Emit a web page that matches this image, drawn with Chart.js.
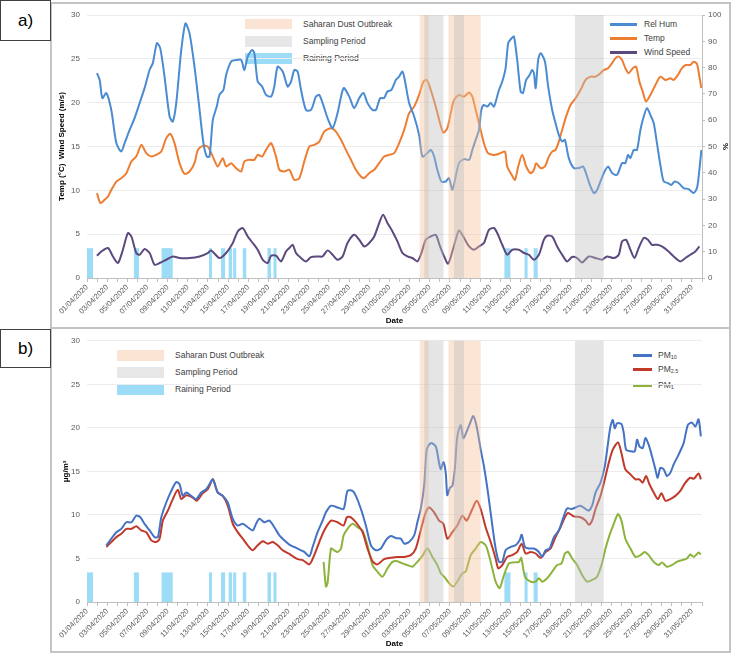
<!DOCTYPE html>
<html>
<head>
<meta charset="utf-8">
<script src="https://cdn.jsdelivr.net/npm/chart.js@4.4.0/dist/chart.umd.min.js"></script>
<style>
  body { margin: 0; background: #fff; font-family: "Liberation Sans", Arial, sans-serif; }
  #page { position: relative; width: 733px; height: 656px; overflow: hidden; background: #fff; }
  .panel { position: absolute; box-sizing: border-box; border: 2px solid #c4c4c4; background: #fff; }
  .tag { position: absolute; box-sizing: border-box; border: 1px solid #404040; background: #fff;
         font-size: 17px; color: #000; display: flex; align-items: center; justify-content: center; z-index: 3; }
  .sw { position: absolute; width: 47px; height: 11px; }
  .txt { position: absolute; font-size: 8.5px; line-height: 10px; color: #404040; white-space: nowrap; }
  .ln { position: absolute; height: 2.5px; }
  canvas { position: absolute; z-index: 2; }
  sub { font-size: 5.5px; vertical-align: -1px; line-height: 0; }
</style>
</head>
<body>
<div id="page">
  <div class="panel" style="left:50px;top:2px;width:681px;height:327px;"></div>
  <div class="panel" style="left:50px;top:327px;width:681px;height:326px;"></div>
  <div class="tag" style="left:0;top:0;width:51px;height:41px;">a)</div>
  <div class="tag" style="left:0;top:329px;width:51px;height:39px;">b)</div>

  <!-- legend a -->
  <div class="sw" style="left:245px;top:19px;height:10px;background:#fce4d4;"></div>
  <div class="sw" style="left:245px;top:36px;background:#e7e7e7;"></div>
  <div class="sw" style="left:245px;top:53px;background:#9ddcf6;"></div>
  <div class="txt" style="left:303px;top:19px;">Saharan Dust Outbreak</div>
  <div class="txt" style="left:303px;top:36px;">Sampling Period</div>
  <div class="txt" style="left:303px;top:53px;">Raining Period</div>
  <div class="ln" style="left:610px;top:23px;width:27px;background:#4a8bd1;"></div>
  <div class="ln" style="left:610px;top:37px;width:27px;background:#ed7d31;"></div>
  <div class="ln" style="left:610px;top:51px;width:27px;background:#5c4a7e;"></div>
  <div class="txt" style="left:644px;top:19px;">Rel Hum</div>
  <div class="txt" style="left:644px;top:33px;">Temp</div>
  <div class="txt" style="left:644px;top:47px;">Wind Speed</div>

  <!-- legend b -->
  <div class="sw" style="left:117px;top:350px;background:#fce4d4;"></div>
  <div class="sw" style="left:117px;top:367px;background:#e7e7e7;"></div>
  <div class="sw" style="left:117px;top:384px;background:#9ddcf6;"></div>
  <div class="txt" style="left:175px;top:350px;">Saharan Dust Outbreak</div>
  <div class="txt" style="left:175px;top:367px;">Sampling Period</div>
  <div class="txt" style="left:175px;top:384px;">Raining Period</div>
  <div class="ln" style="left:633px;top:354px;width:19px;background:#4472c4;"></div>
  <div class="ln" style="left:633px;top:368px;width:19px;background:#c0392b;"></div>
  <div class="ln" style="left:633px;top:384px;width:19px;background:#8db33c;"></div>
  <div class="txt" style="left:658px;top:350px;">PM<sub>10</sub></div>
  <div class="txt" style="left:658px;top:364px;">PM<sub>2.5</sub></div>
  <div class="txt" style="left:658px;top:380px;">PM<sub>1</sub></div>

  <canvas id="chartA" width="679" height="325" style="left:51px;top:3px;"></canvas>
  <canvas id="chartB" width="679" height="322" style="left:51px;top:329px;"></canvas>
</div>

<script>
// x values are days since 01/04/2020
const dustStart = [33.0, 35.85];
const dustEnd = [33.9, 39.05];
const samplingStart = [33.45, 36.4, 48.4];
const samplingEnd = [35.35, 37.4, 51.25];
const rainStart = [0, 4.65, 7.4, 12.1, 13.3, 14.05, 14.5, 15.45, 17.9, 18.5, 41.4, 43.4, 44.3];
const rainEnd = [0.6, 5.15, 8.5, 12.4, 13.7, 14.4, 14.8, 15.8, 18.25, 18.8, 42.0, 43.7, 44.7];
const rainHeight = 3.4;

const rhDays = [0.99,1.26,1.52,1.92,2.41,2.91,3.4,3.73,4.23,4.72,5.22,5.71,6.21,6.53,6.93,7.26,7.69,8.19,8.51,8.85,9.35,9.77,10.17,10.66,11.09,11.55,11.88,12.15,12.48,12.87,13.14,13.53,13.8,14.3,14.79,15.29,15.61,15.94,16.38,16.6,16.93,17.37,17.76,18.26,18.58,18.91,19.41,19.9,20.24,20.56,20.89,21.23,21.72,22.22,22.71,23.04,23.37,23.86,24.36,24.85,25.45,26.01,26.5,27,27.43,27.82,28.32,28.65,29.08,29.47,29.8,30.2,30.63,30.96,31.29,31.52,31.95,32.45,32.94,33.27,33.76,34.1,34.43,34.75,35.15,35.58,35.9,36.24,36.57,36.9,37.4,37.9,38.22,38.55,38.88,39.11,39.37,39.7,40.04,40.37,40.86,41.19,41.52,41.78,42.12,42.35,42.67,43.01,43.24,43.56,43.9,44.16,44.33,44.5,44.75,44.99,45.42,45.74,46.14,46.47,46.8,47.13,47.4,47.79,48.29,48.78,49.21,49.6,49.94,50.27,50.59,50.93,51.26,51.68,52.08,52.57,53.07,53.4,53.66,53.9,54.23,54.55,54.89,55.22,55.54,55.88,56.21,56.53,56.87,57.2,57.62,57.96,58.29,58.68,59.18,59.67,60.17,60.5,60.67,60.94];
const rhValues = [77.9,75.3,68.4,70.3,63.9,51.3,48.1,51.3,56.3,60.8,66.5,72.2,79.1,81.7,89.3,87.4,76.6,61.4,59.5,66.5,86.7,96.8,93,80.4,66.5,51.3,46.2,46.2,60.1,65.2,69.6,71.5,77.2,82.3,82.9,82.9,79.1,84.2,86.7,85.5,74.7,72.8,69.6,69,72.8,80.4,78.5,72.8,74.7,79.1,78.5,71.5,63.9,63.9,69,69.6,66.5,60.8,57,62.7,72.2,69,64.6,68.4,70.3,66.5,63.9,63.9,68.4,68.4,70.9,71.5,75.3,76.6,78.5,75.3,66.5,61.4,54.4,46.2,47.5,48.7,46.2,41.1,36.7,36.7,38,33.5,38.6,43.7,45.2,44.9,48.7,52.5,56.3,63.9,65.8,65.2,66.5,65.2,71.5,74.7,79.8,89.3,91.2,91.8,82.9,70.9,70.3,75.3,77.2,79.1,77.9,72.2,82.9,85.5,82.3,72.8,63.9,58.9,54.4,51.9,52.5,45.6,41.8,41.8,42.4,38.6,34.8,32.3,33.5,36.7,39.9,42.4,39.9,39.2,43.7,43.7,46.8,45.6,48.7,48.7,56.3,61.4,64.6,62,58.9,51.3,43,36.7,36.1,35.4,36.7,36.1,34.2,33.8,32.3,34.2,38.6,48.7];

const tempDays = [0.99,1.33,1.75,2.08,2.42,2.91,3.4,3.9,4.4,4.89,5.39,5.88,6.38,6.87,7.37,7.86,8.26,8.68,9.18,9.67,10.17,10.66,11,11.49,11.98,12.48,12.97,13.47,13.8,14.3,14.79,15.29,15.61,16.11,16.6,16.93,17.37,17.76,18.26,18.75,19.08,19.57,20.07,20.56,21.06,21.55,22.05,22.54,23.04,23.53,24.2,24.69,25.19,25.68,26.18,26.67,27.17,27.5,27.99,28.49,28.98,29.47,29.97,30.47,30.96,31.46,31.95,32.45,32.94,33.37,33.7,34.1,34.59,35.02,35.35,35.74,36.08,36.41,36.9,37.4,37.9,38.22,38.55,38.88,39.37,39.77,40.2,40.53,41.03,41.46,41.68,42.12,42.45,42.77,43.17,43.56,44,44.33,44.55,44.99,45.42,45.81,46.14,46.47,46.8,47.13,47.52,47.96,48.46,48.95,49.45,49.94,50.44,50.93,51.26,51.68,52.08,52.41,52.74,53.07,53.4,53.73,54.13,54.46,54.79,55.12,55.45,55.88,56.38,56.87,57.37,57.86,58.19,58.61,59.01,59.4,59.84,60.17,60.5,60.74,60.94];
const tempValues = [9.68,8.55,8.92,9.3,10.06,11.0,11.39,11.96,13.29,13.85,15.19,14.24,13.85,14.05,14.42,15.95,16.44,15.38,13.1,11.88,12.15,13.1,14.62,15.07,14.99,13.85,12.72,13.67,12.72,13.1,12.53,12.15,13.29,13.48,13.48,14.05,13.85,14.62,15.38,13.85,12.34,12.15,12.34,11.2,11.39,13.29,14.99,15.19,15.56,16.7,17.09,16.7,15.76,14.62,13.48,12.34,11.58,11.39,11.96,12.34,13.1,13.85,14.05,14.24,15.38,16.9,18.8,19.55,20.88,22.4,22.59,21.45,19.55,17.66,16.59,17.09,18.8,20.31,20.88,20.69,21.15,20.69,19.18,17.66,15.38,14.24,14.05,14.05,14.24,14.42,12.72,11.77,11.2,12.72,14.05,12.72,11.96,12.34,13.1,12.53,12.72,13.85,14.42,14.62,15.56,16.9,18.41,19.74,20.51,21.45,22.59,22.97,22.97,23.36,23.73,23.93,24.5,25.07,25.25,24.87,23.93,23.36,23.93,24.11,22.4,21.26,20.12,20.88,22.02,22.97,22.59,22.79,22.59,23.16,23.93,24.3,24.3,24.68,24.42,22.97,21.65];

const windDays = [0.99,1.43,2.08,2.57,3.07,3.56,4.06,4.4,4.89,5.22,5.71,6.21,6.7,7.2,7.86,8.51,9.18,10.17,11.16,11.98,12.31,13.14,13.8,14.46,14.95,15.45,15.94,16.44,16.93,17.43,17.92,18.26,18.75,19.25,19.74,20.07,20.4,20.73,21.23,21.72,22.22,22.87,23.37,23.86,24.36,24.85,25.35,25.84,26.5,27,27.5,27.99,28.49,28.98,29.37,29.8,30.3,30.79,31.29,31.78,32.28,32.77,33.17,33.6,34.1,34.59,35.02,35.42,35.81,36.24,36.57,36.9,37.4,37.9,38.39,38.88,39.37,39.87,40.37,40.69,41.19,41.68,42.18,42.84,43.34,43.83,44.33,44.82,45.31,45.64,46.14,46.63,47.13,47.62,48.12,48.61,49.11,49.77,50.44,51.09,51.58,52.25,52.74,53.07,53.47,53.9,54.3,54.72,55.22,55.64,56.04,56.53,57.03,57.69,58.19,58.85,59.35,59.84,60.34,60.74];
const windValues = [2.54,3.03,3.42,2.46,1.71,3.22,5.13,4.74,2.85,2.65,3.3,2.85,1.52,1.71,2.08,2.46,2.28,2.28,2.46,2.85,3.15,2.28,2.85,3.99,5.31,5.7,4.74,3.99,3.22,2.08,1.71,2.54,2.54,1.89,3.03,3.42,3.79,2.85,2.28,1.89,2.39,2.46,2.46,3.15,2.65,2.08,2.46,3.99,4.93,4.36,3.6,3.99,4.74,6.27,7.21,6.27,5.31,4.17,2.85,2.46,2.28,1.89,2.85,4.36,4.74,4.93,3.6,2.46,1.63,3.03,4.36,5.42,4.56,3.6,3.22,3.6,3.99,5.5,5.7,5.13,3.79,2.65,3.22,3.22,2.85,2.65,2.08,2.65,4.36,4.82,4.74,3.6,2.65,1.89,2.39,2.28,1.78,2.46,2.28,2.08,2.46,2.28,2.65,4.17,4.36,3.22,2.28,3.42,4.56,4.36,3.79,3.79,3.6,3.03,2.46,1.89,2.28,2.65,3.03,3.6];

const pm10Days = [1.92,2.41,2.91,3.4,3.9,4.4,4.89,5.29,5.71,6.21,6.7,7.03,7.37,7.86,8.36,8.85,9.18,9.5,9.84,10.34,10.83,11.33,11.82,12.15,12.48,12.97,13.47,13.96,14.46,14.95,15.45,15.94,16.44,16.77,17.1,17.59,18.09,18.58,19.08,19.57,20.07,20.56,21.23,21.55,22.05,22.38,22.87,23.37,23.7,24.2,24.85,25.45,25.84,26.34,26.67,27.17,27.66,28.16,28.65,29.15,29.64,30.14,30.63,31.13,31.46,31.95,32.45,32.77,33.1,33.44,33.7,34.1,34.59,34.92,35.09,35.35,35.58,35.74,36.01,36.24,36.48,36.73,37.07,37.33,37.66,37.99,38.32,38.65,39.05,39.37,39.77,40.2,40.53,40.86,41.19,41.52,42.02,42.51,42.91,43.11,43.44,43.83,44.33,44.82,45.15,45.49,45.88,46.31,46.8,47.2,47.62,48.06,48.46,48.95,49.45,49.77,50.1,50.44,50.93,51.36,51.68,51.92,52.15,52.35,52.57,53.01,53.24,53.47,53.9,54.33,54.56,54.79,55.12,55.39,55.71,56.04,56.38,56.6,56.87,57.2,57.52,57.86,58.19,58.68,59.18,59.6,60,60.34,60.66,60.89];
const pm10Values = [6.51,7.27,8.02,8.4,9.16,9.16,9.92,9.73,8.98,8.22,7.45,7.45,9.73,11.43,12.76,13.78,13.52,12.19,12.57,12.19,11.82,12.57,12.95,13.52,14.09,12.57,12.19,11.43,9.55,8.78,8.98,8.59,8.22,8.98,9.55,9.16,9.35,8.59,7.65,7.08,6.59,6.32,5.94,5.75,5.26,6.32,8.02,9.35,10.3,11.06,10.86,10.68,12.76,12.76,12.19,10.68,8.78,6.51,5.94,6.14,7.08,7.57,7.34,7.27,6.7,6.89,7.65,9.16,10.68,13.33,17.5,18.25,17.88,15.98,15.23,16.06,14.84,12.27,13.14,13.33,15.23,19.01,20.34,18.82,19.58,20.52,21.36,20.15,17.5,15.6,12.57,8.8,6.14,4.61,4.61,5.94,6.32,6.51,7.08,7.73,6.32,6.14,6.14,5.75,5.18,5.94,6.14,7.45,8.22,9.55,10.75,10.68,10.86,11.06,10.68,10.49,11.06,12.57,13.7,15.6,18.25,20.15,20.91,19.95,20.52,20.45,19.39,17.5,17.31,17.31,18.64,17.88,17.68,18.82,18.07,16.74,15.23,14.27,15.41,15.23,14.47,14.84,15.8,16.93,18.25,20.34,20.6,20.15,20.98,19.01];

const pm25Days = [1.92,2.41,2.91,3.4,3.9,4.4,4.89,5.39,5.88,6.38,6.87,7.2,7.52,8.02,8.51,9.01,9.35,9.84,10.5,10.89,11.49,11.98,12.48,12.97,13.47,13.96,14.46,14.95,15.45,15.94,16.44,16.93,17.43,17.92,18.42,18.91,19.41,20,20.24,20.89,21.39,22.05,22.54,23.04,23.53,24.2,24.85,25.45,25.78,26.18,26.67,27.33,27.82,28.32,28.81,29.47,30.14,30.79,31.46,32.12,32.61,33.1,33.6,33.93,34.43,34.92,35.35,35.74,36.24,36.73,37.23,37.66,38.22,38.65,39.05,39.54,40.04,40.53,40.79,41.19,41.68,42.18,42.67,43.11,43.5,44,44.5,44.99,45.49,45.98,46.47,46.97,47.4,47.72,48.29,48.95,49.45,49.77,50.1,50.44,50.93,51.36,51.75,52.15,52.67,53.01,53.4,53.9,54.4,54.79,55.12,55.45,55.79,56.21,56.63,56.97,57.37,57.86,58.36,58.85,59.35,59.84,60.2,60.66,60.89];
const pm25Values = [6.32,6.89,7.45,7.84,8.4,8.4,8.7,8.22,8.02,7.08,6.89,7.27,9.35,10.49,11.82,12.88,11.82,12.27,12,11.63,12.5,12.95,14.09,12.57,12.19,11.06,8.98,8.02,7.27,6.51,5.94,6.51,6.97,6.7,6.89,6.51,5.94,5.57,5.38,4.92,4.81,4.32,5.38,6.89,8.22,9.35,9.16,8.78,9.73,9.73,9.16,8.02,6.14,4.69,4.32,4.92,5.07,5.18,5.18,5.38,6.14,8.22,10.3,10.86,10.3,9.35,8.98,7.27,8.02,8.78,9.92,9.35,10.68,11.63,10.68,8.59,6.89,5,3.86,4.24,5.18,5.38,5.75,6.7,5.57,5.75,5.57,5.07,5.75,6.14,7.45,8.59,9.73,10.23,9.84,9.73,9.35,8.86,9.35,10.68,12.19,14.09,15.98,17.5,18.33,17.11,15.23,14.66,14.09,14.09,13.7,14.47,13.52,12.57,11.82,12.5,11.63,11.82,12.19,12.76,13.7,14.27,14.16,14.77,14.09];

const pm1Days = [23.47,23.7,23.86,24.2,24.52,24.85,25.19,25.45,25.84,26.34,26.83,27.33,27.82,28.32,28.81,29.31,29.8,30.3,30.79,31.29,31.78,32.28,32.77,33.27,33.76,34.26,34.75,35.09,35.42,35.92,36.34,36.73,37.23,37.56,38.06,38.55,39.05,39.54,39.87,40.2,40.53,40.93,41.36,41.85,42.35,42.84,43.07,43.44,44,44.5,44.82,45.15,45.64,46.14,46.63,47.07,47.4,47.72,48.12,48.61,49.11,49.6,50.1,50.59,51.03,51.43,51.82,52.25,52.67,53.01,53.4,53.9,54.4,54.89,55.32,55.71,56.21,56.7,57.03,57.52,58.02,58.51,59.01,59.5,59.84,60.2,60.66,60.89];
const pm1Values = [4.61,1.77,2.16,6.14,5.94,5.75,6.14,7.65,8.4,8.98,8.59,8.22,6.51,4.24,3.48,2.91,3.86,4.61,4.69,4.43,4.24,4.05,4.61,5.3,6.14,5.18,4.24,3.3,2.91,2.16,1.77,2.34,3.3,3.48,5.38,6.14,6.89,6.51,5.38,3.86,2.34,1.59,3.1,4.43,4.55,4.61,5.07,2.91,2.34,2.34,2.73,2.34,2.73,3.48,4.24,4.43,5.57,5.75,5,4.24,3.1,2.34,2.53,2.91,4.24,6.14,7.65,8.98,10.11,9.35,7.27,6.14,5.18,5.38,5.75,5.38,4.61,4.24,4.55,4.05,4.24,4.61,4.81,5,5.45,5.18,5.68,5.45];

const tickColor = "#595959";
const fontFamily = "'Liberation Sans', Arial, sans-serif";
Chart.defaults.font.family = fontFamily;

function points(days, values) {
  return days.map((d, i) => ({ x: d, y: values[i] }));
}

function dateLabel(value) {
  if (value % 2 !== 0 || value > 60) return "";
  const d = new Date(2020, 3, 1 + value);
  const dd = String(d.getDate()).padStart(2, "0");
  const mm = String(d.getMonth() + 1).padStart(2, "0");
  return dd + "/" + mm + "/" + d.getFullYear();
}

// rain bars go under the lines, dust / sampling shading goes over them
const periodsPlugin = {
  id: "periods",
  beforeDatasetsDraw(chart) {
    const { ctx, scales } = chart;
    const top = scales.y.getPixelForValue(rainHeight);
    const base = scales.y.getPixelForValue(0);
    ctx.save();
    ctx.fillStyle = "#9ddcf6";
    rainStart.forEach((s, i) => {
      const x0 = scales.x.getPixelForValue(s);
      const x1 = scales.x.getPixelForValue(rainEnd[i]);
      ctx.fillRect(x0, top, x1 - x0, base - top);
    });
    ctx.restore();
  },
  afterDatasetsDraw(chart) {
    const { ctx, chartArea, scales } = chart;
    const h = chartArea.bottom - chartArea.top;
    ctx.save();
    ctx.fillStyle = "rgba(245,190,150,0.4)";
    dustStart.forEach((s, i) => {
      const x0 = scales.x.getPixelForValue(s);
      const x1 = scales.x.getPixelForValue(dustEnd[i]);
      ctx.fillRect(x0, chartArea.top, x1 - x0, h);
    });
    ctx.fillStyle = "rgba(190,190,190,0.4)";
    samplingStart.forEach((s, i) => {
      const x0 = scales.x.getPixelForValue(s);
      const x1 = scales.x.getPixelForValue(samplingEnd[i]);
      ctx.fillRect(x0, chartArea.top, x1 - x0, h);
    });
    ctx.restore();
  },
};

function xScale(height) {
  return {
    type: "linear",
    min: 0,
    max: 61,
    ticks: {
      stepSize: 1,
      autoSkip: false,
      minRotation: 45,
      maxRotation: 45,
      padding: 1,
      color: tickColor,
      font: { size: 7.5 },
      callback: dateLabel,
    },
    grid: { drawOnChartArea: false, color: "#bfbfbf", tickLength: 4 },
    border: { color: "#bfbfbf" },
    title: {
      display: true,
      text: "Date",
      color: "#000",
      font: { size: 8, weight: "bold" },
      padding: { top: 0, bottom: 2 },
    },
    afterFit(s) { s.height = height; },
  };
}

function line(label, data, color, axis) {
  return {
    label: label,
    data: data,
    borderColor: color,
    backgroundColor: color,
    borderWidth: 2,
    pointRadius: 0,
    tension: 0.25,
    yAxisID: axis,
  };
}

new Chart(document.getElementById("chartA"), {
  type: "line",
  data: {
    datasets: [
      line("Rel Hum", points(rhDays, rhValues), "#4a8bd1", "y1"),
      line("Temp", points(tempDays, tempValues), "#ed7d31", "y"),
      line("Wind Speed", points(windDays, windValues), "#5c4a7e", "y"),
    ],
  },
  options: {
    responsive: false,
    animation: false,
    devicePixelRatio: 1,
    layout: { padding: { top: 12, left: 0, right: 0, bottom: 0 } },
    plugins: { legend: { display: false }, tooltip: { enabled: false } },
    scales: {
      x: xScale(50),
      y: {
        position: "left",
        min: 0,
        max: 30,
        ticks: { stepSize: 5, padding: 7, color: tickColor, font: { size: 8 } },
        grid: { color: "#ececec", drawTicks: false },
        border: { display: false },
        title: {
          display: true,
          text: "Temp (°C)  Wind Speed (m/s)",
          color: "#000",
          font: { size: 8, weight: "bold" },
          padding: { top: 6, bottom: 0 },
        },
        afterFit(s) { s.width = 36; },
      },
      y1: {
        position: "right",
        min: 0,
        max: 100,
        ticks: { stepSize: 10, padding: 3, color: tickColor, font: { size: 8 } },
        grid: { drawOnChartArea: false, color: "#bfbfbf", tickLength: 3 },
        border: { color: "#bfbfbf" },
        title: {
          display: true,
          text: "%",
          color: "#000",
          font: { size: 8, weight: "bold" },
          padding: { top: 0, bottom: 0 },
        },
        afterFit(s) { s.width = 28; },
      },
    },
  },
  plugins: [periodsPlugin],
});

new Chart(document.getElementById("chartB"), {
  type: "line",
  data: {
    datasets: [
      line("PM10", points(pm10Days, pm10Values), "#4472c4", "y"),
      line("PM2.5", points(pm25Days, pm25Values), "#c0392b", "y"),
      line("PM1", points(pm1Days, pm1Values), "#8db33c", "y"),
    ],
  },
  options: {
    responsive: false,
    animation: false,
    devicePixelRatio: 1,
    layout: { padding: { top: 9, left: 0, right: 28, bottom: 0 } },
    plugins: { legend: { display: false }, tooltip: { enabled: false } },
    scales: {
      x: xScale(49),
      y: {
        position: "left",
        min: 0,
        max: 30,
        ticks: { stepSize: 5, padding: 7, color: tickColor, font: { size: 8 } },
        grid: { color: "#ececec", drawTicks: false },
        border: { display: false },
        title: {
          display: true,
          text: "μg/m³",
          color: "#000",
          font: { size: 8, weight: "bold" },
          padding: { top: 10, bottom: 0 },
        },
        afterFit(s) { s.width = 36; },
      },
    },
  },
  plugins: [periodsPlugin],
});
</script>
</body>
</html>
